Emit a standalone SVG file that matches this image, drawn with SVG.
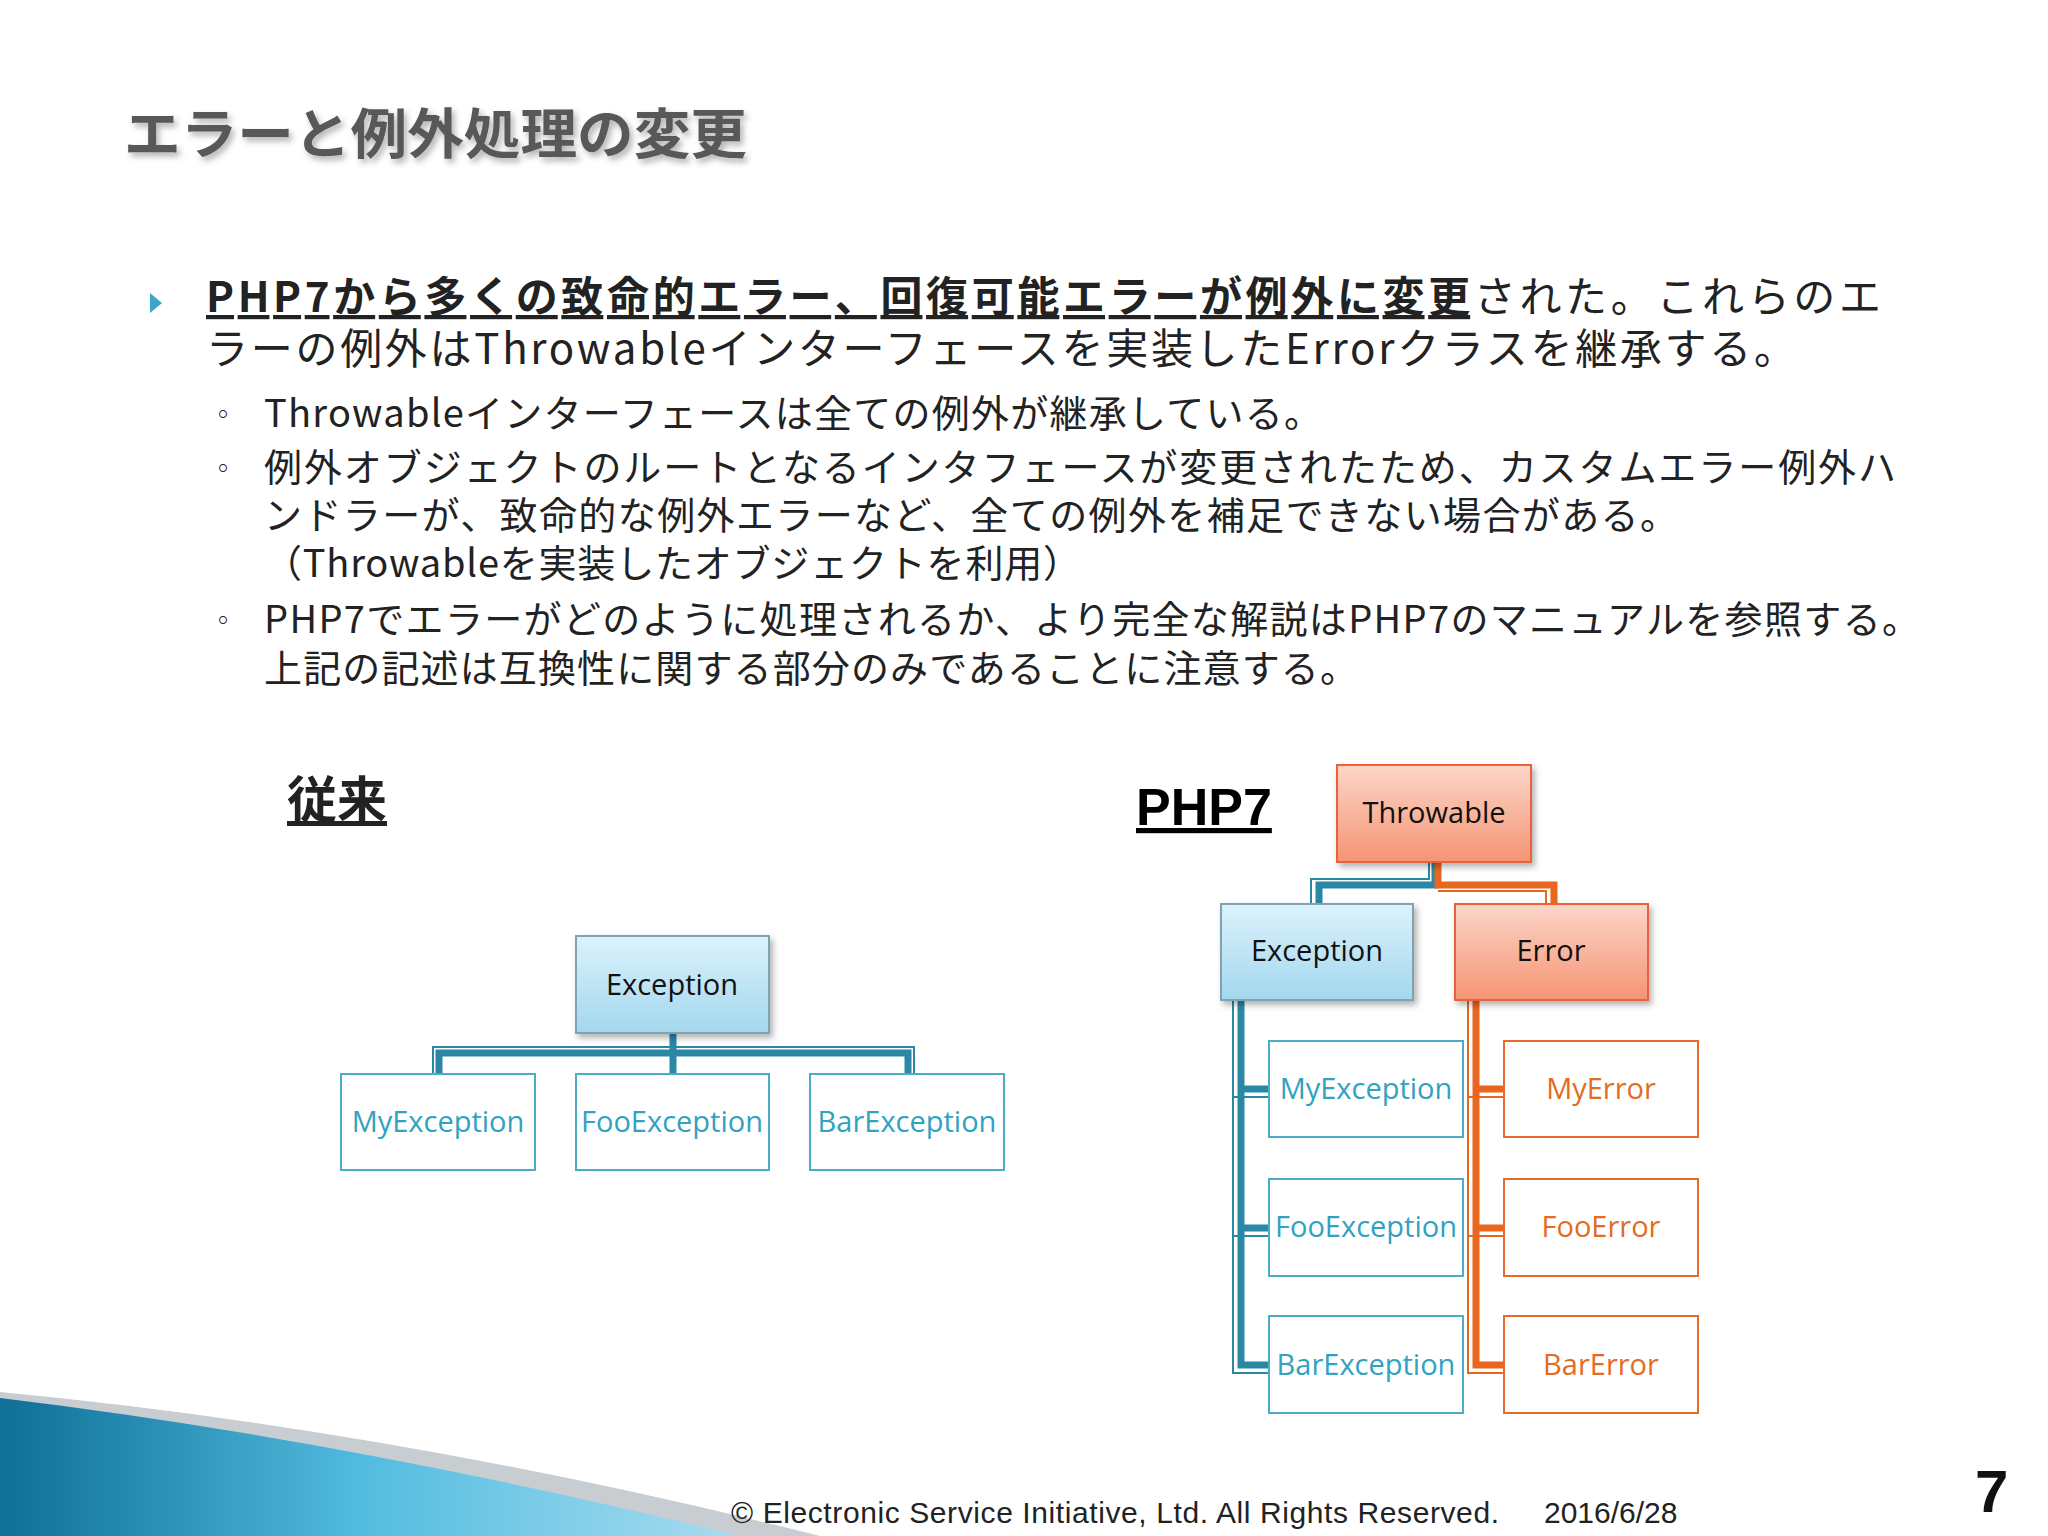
<svg xmlns="http://www.w3.org/2000/svg" width="2048" height="1536" viewBox="0 0 2048 1536">
<defs>
<linearGradient id="gb" x1="0" y1="0" x2="0" y2="1"><stop offset="0" stop-color="#dcf2fc"/><stop offset="1" stop-color="#a3d7ee"/></linearGradient>
<linearGradient id="go" x1="0" y1="0" x2="0" y2="1"><stop offset="0" stop-color="#fcd6c8"/><stop offset="1" stop-color="#f59474"/></linearGradient>
<linearGradient id="gs" x1="0" y1="0" x2="1" y2="0"><stop offset="0" stop-color="#0e6f97"/><stop offset="0.5" stop-color="#54bde0"/><stop offset="1" stop-color="#a8dcf0"/></linearGradient>
<filter id="sh" x="-10%" y="-10%" width="130%" height="140%"><feDropShadow dx="3" dy="4" stdDeviation="3" flood-color="#000" flood-opacity="0.3"/></filter>
</defs>
<style>
.j{font-family:"Noto Sans CJK JP","Noto Sans",sans-serif;fill:#222}
.n{font-family:"Open Sans","Noto Sans",sans-serif;font-size:29px;text-anchor:middle}
.bp{fill:url(#gb);stroke:#7fa3b3;stroke-width:2}
.op{fill:url(#go);stroke:#e8643a;stroke-width:2}
.bc{fill:#fff;stroke:#4bacc6;stroke-width:2}
.oc{fill:#fff;stroke:#e9692c;stroke-width:2}
.cb{fill:none;stroke:#2a88a5;stroke-width:7}
.co{fill:none;stroke:#e8661f;stroke-width:7}
.cbt{fill:none;stroke:#2a88a5;stroke-width:2}
.cot{fill:none;stroke:#e8661f;stroke-width:2}
</style>
<rect width="2048" height="1536" fill="#fff"/>
<text x="124" y="154" class="j" font-size="54" font-weight="bold" style="fill:#595959" filter="url(#sh)" textLength="623" lengthAdjust="spacingAndGlyphs">エラーと例外処理の変更</text>
<polygon points="150,293 162,303 150,313" fill="#3aa6c8"/>
<text x="206" y="312" class="j" font-size="42" textLength="1675"><tspan font-weight="bold" text-decoration="underline">PHP7から多くの致命的エラー、回復可能エラーが例外に変更</tspan>された。これらのエ</text>
<text x="206" y="364" class="j" font-size="42" textLength="1590">ラーの例外はThrowableインターフェースを実装したErrorクラスを継承する。</text>
<g class="j" font-size="38">
<text x="210" y="424" font-size="26">◦</text>
<text x="264" y="427" textLength="1058">Throwableインターフェースは全ての例外が継承している。</text>
<text x="210" y="478" font-size="26">◦</text>
<text x="264" y="481" textLength="1632">例外オブジェクトのルートとなるインタフェースが変更されたため、カスタムエラー例外ハ</text>
<text x="264" y="529" textLength="1414">ンドラーが、致命的な例外エラーなど、全ての例外を補足できない場合がある。</text>
<text x="264" y="577" textLength="817">（Throwableを実装したオブジェクトを利用）</text>
<text x="210" y="630" font-size="26">◦</text>
<text x="264" y="633" textLength="1656">PHP7でエラーがどのように処理されるか、より完全な解説はPHP7のマニュアルを参照する。</text>
<text x="264" y="682" textLength="1094">上記の記述は互換性に関する部分のみであることに注意する。</text>
</g>
<text x="287" y="818" class="j" font-size="50" font-weight="bold" text-decoration="underline">従来</text>
<text x="1136" y="825" font-family="Liberation Sans,sans-serif" font-size="52" font-weight="bold" text-decoration="underline">PHP7</text>
<g id="connectors">
<path class="cb" d="M673,1033 V1053 M439,1074 V1053 H908 V1074 M673,1053 V1074"/>
<path class="cbt" d="M433,1074 V1047 H914 V1074"/>
<path class="cb" d="M1435,862 V885 H1319 V904"/>
<path class="cbt" d="M1429,862 V879 H1311 V904"/>
<path class="co" d="M1438,862 V885 H1554 V904"/>
<path class="cot" d="M1438,891 H1546 V904"/>
<path class="cb" d="M1241,1000 V1365 H1269 M1241,1089 H1269 M1241,1228 H1269"/>
<path class="cbt" d="M1233,1000 V1373 H1269 M1233,1097 H1269 M1233,1236 H1269"/>
<path class="co" d="M1476,1000 V1365 H1504 M1476,1089 H1504 M1476,1228 H1504"/>
<path class="cot" d="M1468,1000 V1373 H1504 M1468,1097 H1504 M1468,1236 H1504"/>
</g>
<g id="l-exception"><rect class="bp" x="576" y="936" width="193" height="97" filter="url(#sh)"/><text class="n" x="672" y="995" fill="#111">Exception</text></g>
<g id="l-my"><rect class="bc" x="341" y="1074" width="194" height="96"/><text class="n" x="438" y="1132" fill="#31a2bf">MyException</text></g>
<g id="l-foo"><rect class="bc" x="576" y="1074" width="193" height="96"/><text class="n" x="672" y="1132" fill="#31a2bf">FooException</text></g>
<g id="l-bar"><rect class="bc" x="810" y="1074" width="194" height="96"/><text class="n" x="907" y="1132" fill="#31a2bf">BarException</text></g>
<g id="throwable"><rect class="op" x="1337" y="765" width="194" height="97" filter="url(#sh)"/><text class="n" x="1434" y="823" fill="#111">Throwable</text></g>
<g id="exception"><rect class="bp" x="1221" y="904" width="192" height="96" filter="url(#sh)"/><text class="n" x="1317" y="961" fill="#111">Exception</text></g>
<g id="error"><rect class="op" x="1455" y="904" width="193" height="96" filter="url(#sh)"/><text class="n" x="1551" y="961" fill="#111">Error</text></g>
<g id="myexception"><rect class="bc" x="1269" y="1041" width="194" height="96"/><text class="n" x="1366" y="1099" fill="#31a2bf">MyException</text></g>
<g id="fooexception"><rect class="bc" x="1269" y="1179" width="194" height="97"/><text class="n" x="1366" y="1237" fill="#31a2bf">FooException</text></g>
<g id="barexception"><rect class="bc" x="1269" y="1316" width="194" height="97"/><text class="n" x="1366" y="1375" fill="#31a2bf">BarException</text></g>
<g id="myerror"><rect class="oc" x="1504" y="1041" width="194" height="96"/><text class="n" x="1601" y="1099" fill="#e46c1f">MyError</text></g>
<g id="fooerror"><rect class="oc" x="1504" y="1179" width="194" height="97"/><text class="n" x="1601" y="1237" fill="#e46c1f">FooError</text></g>
<g id="barerror"><rect class="oc" x="1504" y="1316" width="194" height="97"/><text class="n" x="1601" y="1375" fill="#e46c1f">BarError</text></g>
<path d="M0,1392 Q400,1430 820,1536 L0,1536 Z" fill="#c8cdd2"/>
<path d="M0,1398 Q350,1440 740,1536 L0,1536 Z" fill="url(#gs)"/>
<text x="731" y="1523" font-family="Liberation Sans,sans-serif" font-size="30" fill="#222" textLength="768">© Electronic Service Initiative, Ltd. All Rights Reserved.</text>
<text x="1544" y="1523" font-family="Liberation Sans,sans-serif" font-size="30" fill="#222">2016/6/28</text>
<text x="1975" y="1512" font-family="Liberation Sans,sans-serif" font-size="60" font-weight="bold" fill="#111">7</text>
</svg>
